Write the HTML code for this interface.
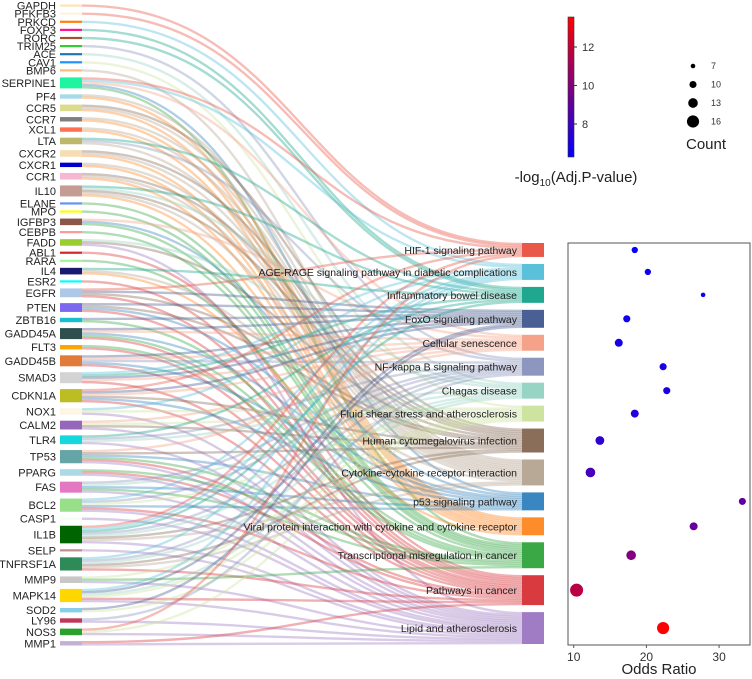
<!DOCTYPE html>
<html><head><meta charset="utf-8">
<style>
html,body{margin:0;padding:0;background:#fff;}
svg{display:block;font-family:"Liberation Sans",Arial,sans-serif;}
</style></head>
<body>
<svg id="chart" width="752" height="679" viewBox="0 0 752 679" xmlns="http://www.w3.org/2000/svg">
<g id="links"></g>
<g id="nodes"></g>
<g id="dots"></g>
<g id="legend"></g>
</svg>
<script>
const genes = ["GAPDH","PFKFB3","PRKCD","FOXP3","RORC","TRIM25","ACE","CAV1","BMP6","SERPINE1","PF4","CCR5","CCR7","XCL1","LTA","CXCR2","CXCR1","CCR1","IL10","ELANE","MPO","IGFBP3","CEBPB","FADD","ABL1","RARA","IL4","ESR2","EGFR","PTEN","ZBTB16","GADD45A","FLT3","GADD45B","SMAD3","CDKN1A","NOX1","CALM2","TLR4","TP53","PPARG","FAS","BCL2","CASP1","IL1B","SELP","TNFRSF1A","MMP9","MAPK14","SOD2","LY96","NOS3","MMP1"];
const geneColors = ["#fde3b5","#fff1e3","#ff7f0e","#ff1493","#a0522d","#32cd32","#1f77b4","#1e90ff","#ffbb78","#1ff5a0","#a6dce8","#dbdb8d","#7f7f7f","#ff7050","#bdb76b","#f5deb3","#0000cd","#f7b6d2","#c49c94","#6495ed","#ffff00","#8c564b","#ff9896","#9acd32","#d62728","#98fb98","#191970","#00ffff","#aec7e8","#7b68ee","#17becf","#2f4f4f","#ffa500","#e07b39","#d3d3d3","#bcbd22","#fdf5e6","#9467bd","#17d7de","#66a5a5","#add8e6","#e377c2","#98df8a","#f0fff0","#006400","#bc8f8f","#2e8b57","#c7c7c7","#ffd700","#87ceeb","#c0395a","#2ca02c","#c5b0d5"];
const pathways = ["HIF-1 signaling pathway","AGE-RAGE signaling pathway in diabetic complications","Inflammatory bowel disease","FoxO signaling pathway","Cellular senescence","NF-kappa B signaling pathway","Chagas disease","Fluid shear stress and atherosclerosis","Human cytomegalovirus infection","Cytokine-cytokine receptor interaction","p53 signaling pathway","Viral protein interaction with cytokine and cytokine receptor","Transcriptional misregulation in cancer","Pathways in cancer","Lipid and atherosclerosis"];
const pathwayColors = ["#e8594a","#5bc0d9","#1fa88f","#4a5f94","#f4a28a","#8d96bf","#98d4c3","#cde3a0","#8a6e5a","#b8a896","#3a86c0","#ff8c2a","#3aa945","#d93a3f","#9f7cc4"];
// gene -> pathway index lists
const geneLinks = [[0],[0],[1],[2],[2],[5],[6],[7],[9],[0,1,4,10,12],[9,11],[8,9,11],[9,11],[9,11],[2,5,9],[8,9,11],[9,11],[8,9,11],[2,6,8,9,11],[12],[12],[4,10,12],[12],[6,8,14],[13],[12],[2,9,11],[13],[0,3,8,13],[3,8,10,13],[3,12],[3,4,10,12,13],[12,13],[3,4,5,10,13],[1,2,3,4,13],[0,3,4,8,10,13],[1,7,14],[4,7,8,14],[2,5,6,14],[4,8,10,12,13,14],[12,13,14],[5,6,10,12,14],[1,5,7,10,13,14],[14],[0,1,2,5,6,8,9,14],[14],[1,5,6,8,9,13],[7,12,14],[1,3,6,7,13,14],[3,7],[5,14],[0,7,14],[13,14]];
const oddsRatio = [18.4,20.2,27.8,17.3,16.2,22.3,22.8,18.4,13.6,12.3,33.2,26.5,17.9,10.4,22.3];
const counts = [9,9,7,10,11,10,10,11,12,13,10,11,13,17,16];
const negLogP = [6.5,6.6,6.6,6.8,6.9,7.0,7.1,7.2,7.6,8.3,9.0,9.2,10.0,11.6,13.5];
const xTicks = [10,20,30];
const cbTicks = [8,10,12];
const sizeTicks = [7,10,13,16];

const NS="http://www.w3.org/2000/svg";
function mk(tag,attrs,parent){const e=document.createElementNS(NS,tag);for(const k in attrs)e.setAttribute(k,attrs[k]);parent.appendChild(e);return e;}
const gL=document.getElementById('links'),gN=document.getElementById('nodes'),gD=document.getElementById('dots'),gG=document.getElementById('legend');

// layout
const LX0=60, LX1=82, RX0=522, RX1=544;
const total=geneLinks.reduce((s,a)=>s+a.length,0);
const pCount=pathways.map(()=>0);geneLinks.forEach(a=>a.forEach(p=>pCount[p]++));
const lTop=4.5,lBot=645.5,rTop=243,rBot=644;
const gapL=5.9, gapR=7;
const uL=(lBot-lTop-gapL*(genes.length-1))/total;
const uR=(rBot-rTop-gapR*(pathways.length-1))/total;
const gY=[];let y=lTop;genes.forEach((g,i)=>{gY.push(y);y+=geneLinks[i].length*uL+gapL;});
const pY=[];y=rTop;pathways.forEach((p,i)=>{pY.push(y);y+=pCount[i]*uR+gapR;});
const links=[];geneLinks.forEach((a,gi)=>a.forEach(pi=>links.push({gi,pi})));
const gOff=genes.map(()=>0),pOff=pathways.map(()=>0);
links.forEach(l=>{l.y0=gY[l.gi]+gOff[l.gi]+uL/2;gOff[l.gi]+=uL;});
pathways.forEach((p,pi)=>{links.filter(l=>l.pi===pi).sort((a,b)=>a.gi-b.gi).forEach(l=>{l.y1=pY[pi]+pOff[pi]+uR/2;pOff[pi]+=uR;});});
const mx=(LX1+RX0)/2;
links.forEach(l=>{
  const p=mk('path',{d:`M${LX1},${l.y0} C${mx},${l.y0} ${mx},${l.y1} ${RX0},${l.y1}`,fill:'none',stroke:pathwayColors[l.pi],'stroke-width':(uL+uR)/2+0.3,'stroke-opacity':0.4},gL);
  
  
});
genes.forEach((g,i)=>{
  const h=geneLinks[i].length*uL;
  const r=mk('rect',{x:LX0,y:gY[i],width:LX1-LX0,height:h,fill:geneColors[i]},gN);
  
  
  const t=mk('text',{x:56,y:gY[i]+h/2+4,'text-anchor':'end','font-size':11,fill:'#222'},gN);t.textContent=g;
  
  
});
pathways.forEach((p,i)=>{
  const h=pCount[i]*uR;
  const r=mk('rect',{x:RX0,y:pY[i],width:RX1-RX0,height:h,fill:pathwayColors[i]},gN);
  
  
  const t=mk('text',{x:517,y:pY[i]+h/2+4,'text-anchor':'end','font-size':10.5,fill:'#222'},gN);t.textContent=p;
  
  
});
// dot plot
const fx0=568,fx1=750,fy0=243,fy1=645;
const xs=v=>573.7+(v-10)*7.27;
const rs=c=>2.3+(c-7)*0.42;
function col(v){const t=Math.max(0,Math.min(1,(v-6.3)/(13.56-6.3)));return `rgb(${Math.round(255*t)},0,${Math.round(255*(1-t))})`;}
const fr=mk('rect',{x:fx0,y:fy0,width:fx1-fx0,height:fy1-fy0,fill:'none',stroke:'#555','stroke-width':1},gD);

oddsRatio.forEach((v,i)=>{
  const c=mk('circle',{cx:xs(v),cy:pY[i]+pCount[i]*uR/2,r:rs(counts[i]),fill:col(negLogP[i])},gD);
  
  
});
xTicks.forEach(v=>{
  const tk=mk('line',{x1:xs(v),x2:xs(v),y1:fy1,y2:fy1+3,stroke:'#555'},gD);
  
  const t=mk('text',{x:xs(v),y:fy1+16,'text-anchor':'middle','font-size':12,fill:'#333'},gD);t.textContent=v;
  
});
const xt=mk('text',{x:659,y:674,'text-anchor':'middle','font-size':15,fill:'#222'},gD);xt.textContent='Odds Ratio';

// colorbar
const defs=mk('defs',{},gG);const lg=mk('linearGradient',{id:'cb',x1:0,y1:1,x2:0,y2:0},defs);
mk('stop',{offset:0,'stop-color':'#0000ff'},lg);mk('stop',{offset:1,'stop-color':'#ff0000'},lg);
const cb=mk('rect',{x:568,y:17,width:6,height:140,fill:'url(#cb)',stroke:'#333','stroke-width':0.6},gG);

const cy=v=>124-(v-8)*19.25;
cbTicks.forEach(v=>{
  const tk=mk('line',{x1:574,x2:577,y1:cy(v),y2:cy(v),stroke:'#333'},gG);
  
  const t=mk('text',{x:582,y:cy(v)+4,'font-size':11,fill:'#333'},gG);t.textContent=v;
  
});
const ct=mk('text',{x:576,y:182,'text-anchor':'middle','font-size':15,fill:'#222'},gG);
ct.innerHTML='-log<tspan font-size="10" dy="4">10</tspan><tspan dy="-4">(Adj.P-value)</tspan>';

// size legend
sizeTicks.forEach((v,i)=>{
  const c=mk('circle',{cx:693,cy:66+i*18.5,r:rs(v),fill:'#000'},gG);
  
  const t=mk('text',{x:711,y:69+i*18.5,'font-size':9,fill:'#333'},gG);t.textContent=v;
  
});
const st=mk('text',{x:706,y:149,'text-anchor':'middle','font-size':15,fill:'#222'},gG);st.textContent='Count';

</script>
</body></html>
